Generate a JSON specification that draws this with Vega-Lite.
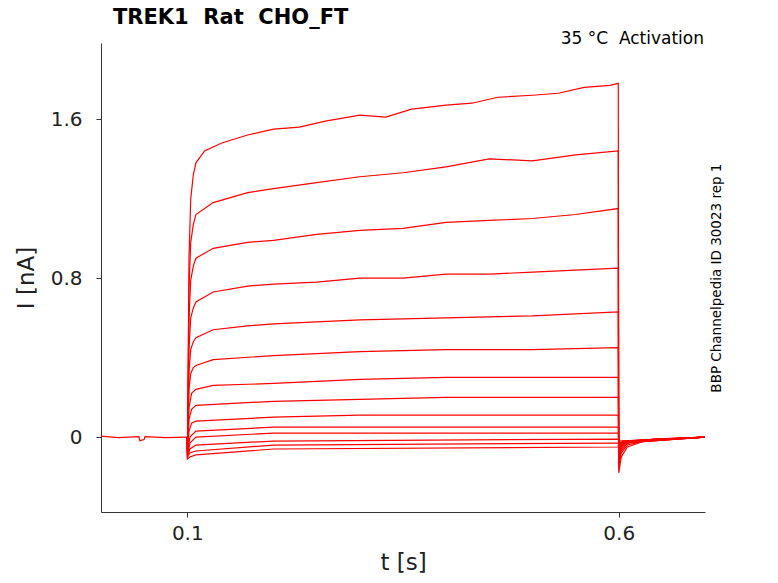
{
"$schema":"https://vega.github.io/schema/vega-lite/v6.json",
"width":604,"height":469,
"autosize":{"type":"none"},
"padding":{"left":101,"top":43,"right":73,"bottom":71},
"title":{"text":"TREK1 \u00a0Rat \u00a0CHO_FT","anchor":"start","frame":"group","offset":2,"fontSize":21,"font":"DejaVu Sans","fontWeight":"bold","dx":12},
"config":{"view":{"stroke":null},"font":"DejaVu Sans"},
"layer":[
{"data":{"values":[
{"k":0,"t":0,"i":0.005},{"k":0,"t":0.02,"i":-0.003},{"k":0,"t":0.044,"i":0.002},{"k":0,"t":0.045,"i":-0.018},{"k":0,"t":0.05,"i":-0.012},{"k":0,"t":0.051,"i":0.002},{"k":0,"t":0.075,"i":-0.003},{"k":0,"t":0.1,"i":0},
{"k":1,"t":0.1,"i":0},{"k":1,"t":0.1002,"i":-0.1},{"k":1,"t":0.102,"i":0.9},{"k":1,"t":0.104,"i":1.2},{"k":1,"t":0.107,"i":1.32},{"k":1,"t":0.11,"i":1.38},{"k":1,"t":0.12,"i":1.44},{"k":1,"t":0.14,"i":1.48},{"k":1,"t":0.17,"i":1.52},{"k":1,"t":0.2,"i":1.55},{"k":1,"t":0.23,"i":1.56},{"k":1,"t":0.26,"i":1.59},{"k":1,"t":0.3,"i":1.62},{"k":1,"t":0.33,"i":1.61},{"k":1,"t":0.36,"i":1.65},{"k":1,"t":0.4,"i":1.67},{"k":1,"t":0.43,"i":1.68},{"k":1,"t":0.46,"i":1.71},{"k":1,"t":0.5,"i":1.72},{"k":1,"t":0.53,"i":1.73},{"k":1,"t":0.56,"i":1.76},{"k":1,"t":0.59,"i":1.77},{"k":1,"t":0.5995,"i":1.78},{"k":1,"t":0.6,"i":-0.18},{"k":1,"t":0.603,"i":-0.1},{"k":1,"t":0.61,"i":-0.05},{"k":1,"t":0.63,"i":-0.02},{"k":1,"t":0.66,"i":-0.01},{"k":1,"t":0.7,"i":0},
{"k":2,"t":0.1,"i":0},{"k":2,"t":0.1002,"i":-0.09},{"k":2,"t":0.102,"i":0.75},{"k":2,"t":0.104,"i":0.98},{"k":2,"t":0.107,"i":1.07},{"k":2,"t":0.11,"i":1.12},{"k":2,"t":0.13,"i":1.18},{"k":2,"t":0.17,"i":1.23},{"k":2,"t":0.2,"i":1.25},{"k":2,"t":0.25,"i":1.28},{"k":2,"t":0.3,"i":1.31},{"k":2,"t":0.35,"i":1.33},{"k":2,"t":0.4,"i":1.36},{"k":2,"t":0.45,"i":1.40},{"k":2,"t":0.5,"i":1.39},{"k":2,"t":0.55,"i":1.42},{"k":2,"t":0.5995,"i":1.44},{"k":2,"t":0.6,"i":-0.15},{"k":2,"t":0.603,"i":-0.08},{"k":2,"t":0.61,"i":-0.04},{"k":2,"t":0.63,"i":-0.02},{"k":2,"t":0.7,"i":0},
{"k":3,"t":0.1,"i":0},{"k":3,"t":0.1002,"i":-0.08},{"k":3,"t":0.102,"i":0.6},{"k":3,"t":0.104,"i":0.79},{"k":3,"t":0.107,"i":0.86},{"k":3,"t":0.11,"i":0.90},{"k":3,"t":0.13,"i":0.95},{"k":3,"t":0.17,"i":0.98},{"k":3,"t":0.2,"i":0.99},{"k":3,"t":0.25,"i":1.02},{"k":3,"t":0.3,"i":1.04},{"k":3,"t":0.35,"i":1.05},{"k":3,"t":0.4,"i":1.08},{"k":3,"t":0.45,"i":1.09},{"k":3,"t":0.5,"i":1.10},{"k":3,"t":0.55,"i":1.12},{"k":3,"t":0.5995,"i":1.15},{"k":3,"t":0.6,"i":-0.13},{"k":3,"t":0.603,"i":-0.07},{"k":3,"t":0.61,"i":-0.03},{"k":3,"t":0.64,"i":-0.01},{"k":3,"t":0.7,"i":0},
{"k":4,"t":0.1,"i":0},{"k":4,"t":0.1002,"i":-0.07},{"k":4,"t":0.102,"i":0.45},{"k":4,"t":0.104,"i":0.6},{"k":4,"t":0.107,"i":0.65},{"k":4,"t":0.11,"i":0.68},{"k":4,"t":0.13,"i":0.73},{"k":4,"t":0.17,"i":0.76},{"k":4,"t":0.2,"i":0.77},{"k":4,"t":0.25,"i":0.78},{"k":4,"t":0.3,"i":0.80},{"k":4,"t":0.35,"i":0.80},{"k":4,"t":0.4,"i":0.82},{"k":4,"t":0.45,"i":0.82},{"k":4,"t":0.5,"i":0.83},{"k":4,"t":0.55,"i":0.84},{"k":4,"t":0.5995,"i":0.85},{"k":4,"t":0.6,"i":-0.11},{"k":4,"t":0.603,"i":-0.06},{"k":4,"t":0.61,"i":-0.03},{"k":4,"t":0.64,"i":-0.01},{"k":4,"t":0.7,"i":0},
{"k":5,"t":0.1,"i":0},{"k":5,"t":0.1002,"i":-0.07},{"k":5,"t":0.102,"i":0.33},{"k":5,"t":0.104,"i":0.44},{"k":5,"t":0.107,"i":0.48},{"k":5,"t":0.11,"i":0.50},{"k":5,"t":0.13,"i":0.54},{"k":5,"t":0.17,"i":0.56},{"k":5,"t":0.2,"i":0.57},{"k":5,"t":0.3,"i":0.59},{"k":5,"t":0.4,"i":0.60},{"k":5,"t":0.5,"i":0.61},{"k":5,"t":0.5995,"i":0.63},{"k":5,"t":0.6,"i":-0.1},{"k":5,"t":0.603,"i":-0.05},{"k":5,"t":0.61,"i":-0.02},{"k":5,"t":0.7,"i":0},
{"k":6,"t":0.1,"i":0},{"k":6,"t":0.1002,"i":-0.06},{"k":6,"t":0.102,"i":0.24},{"k":6,"t":0.104,"i":0.32},{"k":6,"t":0.107,"i":0.35},{"k":6,"t":0.11,"i":0.36},{"k":6,"t":0.13,"i":0.39},{"k":6,"t":0.2,"i":0.41},{"k":6,"t":0.3,"i":0.43},{"k":6,"t":0.4,"i":0.44},{"k":6,"t":0.5,"i":0.44},{"k":6,"t":0.5995,"i":0.45},{"k":6,"t":0.6,"i":-0.09},{"k":6,"t":0.603,"i":-0.05},{"k":6,"t":0.61,"i":-0.02},{"k":6,"t":0.7,"i":0},
{"k":7,"t":0.1,"i":0},{"k":7,"t":0.1002,"i":-0.06},{"k":7,"t":0.102,"i":0.15},{"k":7,"t":0.105,"i":0.22},{"k":7,"t":0.11,"i":0.24},{"k":7,"t":0.13,"i":0.26},{"k":7,"t":0.2,"i":0.27},{"k":7,"t":0.3,"i":0.29},{"k":7,"t":0.4,"i":0.30},{"k":7,"t":0.5,"i":0.30},{"k":7,"t":0.5995,"i":0.30},{"k":7,"t":0.6,"i":-0.08},{"k":7,"t":0.603,"i":-0.04},{"k":7,"t":0.61,"i":-0.02},{"k":7,"t":0.7,"i":0},
{"k":8,"t":0.1,"i":0},{"k":8,"t":0.1002,"i":-0.06},{"k":8,"t":0.102,"i":0.09},{"k":8,"t":0.105,"i":0.14},{"k":8,"t":0.11,"i":0.16},{"k":8,"t":0.2,"i":0.18},{"k":8,"t":0.3,"i":0.19},{"k":8,"t":0.4,"i":0.20},{"k":8,"t":0.5995,"i":0.20},{"k":8,"t":0.6,"i":-0.07},{"k":8,"t":0.603,"i":-0.04},{"k":8,"t":0.61,"i":-0.02},{"k":8,"t":0.7,"i":0},
{"k":9,"t":0.1,"i":0},{"k":9,"t":0.1002,"i":-0.07},{"k":9,"t":0.102,"i":0.03},{"k":9,"t":0.105,"i":0.07},{"k":9,"t":0.11,"i":0.08},{"k":9,"t":0.2,"i":0.10},{"k":9,"t":0.3,"i":0.11},{"k":9,"t":0.5995,"i":0.11},{"k":9,"t":0.6,"i":-0.06},{"k":9,"t":0.605,"i":-0.03},{"k":9,"t":0.7,"i":0},
{"k":10,"t":0.1,"i":0},{"k":10,"t":0.1002,"i":-0.08},{"k":10,"t":0.103,"i":0.0},{"k":10,"t":0.11,"i":0.03},{"k":10,"t":0.2,"i":0.05},{"k":10,"t":0.5995,"i":0.05},{"k":10,"t":0.6,"i":-0.05},{"k":10,"t":0.605,"i":-0.02},{"k":10,"t":0.7,"i":0},
{"k":11,"t":0.1,"i":0},{"k":11,"t":0.1002,"i":-0.09},{"k":11,"t":0.103,"i":-0.03},{"k":11,"t":0.11,"i":0.0},{"k":11,"t":0.2,"i":0.02},{"k":11,"t":0.5995,"i":0.02},{"k":11,"t":0.6,"i":-0.04},{"k":11,"t":0.605,"i":-0.02},{"k":11,"t":0.7,"i":0},
{"k":12,"t":0.1,"i":0},{"k":12,"t":0.1002,"i":-0.1},{"k":12,"t":0.103,"i":-0.06},{"k":12,"t":0.11,"i":-0.04},{"k":12,"t":0.2,"i":-0.02},{"k":12,"t":0.5995,"i":-0.01},{"k":12,"t":0.6,"i":-0.03},{"k":12,"t":0.7,"i":0},
{"k":13,"t":0.1,"i":0},{"k":13,"t":0.1002,"i":-0.1},{"k":13,"t":0.103,"i":-0.08},{"k":13,"t":0.11,"i":-0.07},{"k":13,"t":0.2,"i":-0.04},{"k":13,"t":0.5995,"i":-0.03},{"k":13,"t":0.6,"i":-0.03},{"k":13,"t":0.7,"i":0},
{"k":14,"t":0.1,"i":0},{"k":14,"t":0.1002,"i":-0.11},{"k":14,"t":0.103,"i":-0.1},{"k":14,"t":0.11,"i":-0.09},{"k":14,"t":0.2,"i":-0.06},{"k":14,"t":0.5995,"i":-0.05},{"k":14,"t":0.6,"i":-0.02},{"k":14,"t":0.7,"i":0}
]},
"mark":{"type":"line","color":"#ff0000","strokeWidth":1.2,"clip":true},
"encoding":{
"x":{"field":"t","type":"quantitative","scale":{"domain":[0,0.7],"nice":false},"axis":{"values":[0.1,0.6],"labelExpr":"datum.value","title":"t [s]","titleFontSize":23,"labelFontSize":20,"grid":false,"domainColor":"#333","tickColor":"#333","labelColor":"#222","titleColor":"#222","titleFontWeight":"normal","labelPadding":6,"titlePadding":8}},
"y":{"field":"i","type":"quantitative","scale":{"domain":[-0.377,1.983],"nice":false},"axis":{"values":[0,0.8,1.6],"labelExpr":"datum.value","title":"I [nA]","titleFontSize":23,"labelFontSize":20,"grid":false,"domainColor":"#333","tickColor":"#333","labelColor":"#222","titleColor":"#222","titleFontWeight":"normal","labelPadding":14,"titlePadding":12}},
"detail":{"field":"k","type":"nominal"},
"order":{"field":"t","type":"quantitative"}
}},
{"data":{"values":[{"t":0.7,"i":1.983}]},
"mark":{"type":"text","text":"35 °C \u00a0Activation","align":"right","baseline":"top","fontSize":17,"dx":-1,"dy":-12},
"encoding":{"x":{"field":"t","type":"quantitative"},"y":{"field":"i","type":"quantitative"}}},
{"data":{"values":[{"t":0.7,"i":0.8}]},
"mark":{"type":"text","text":"BBP Channelpedia ID 30023 rep 1","angle":270,"align":"center","baseline":"middle","fontSize":13.5,"dx":0,"dy":12},
"encoding":{"x":{"field":"t","type":"quantitative"},"y":{"field":"i","type":"quantitative"}}}
]
}
